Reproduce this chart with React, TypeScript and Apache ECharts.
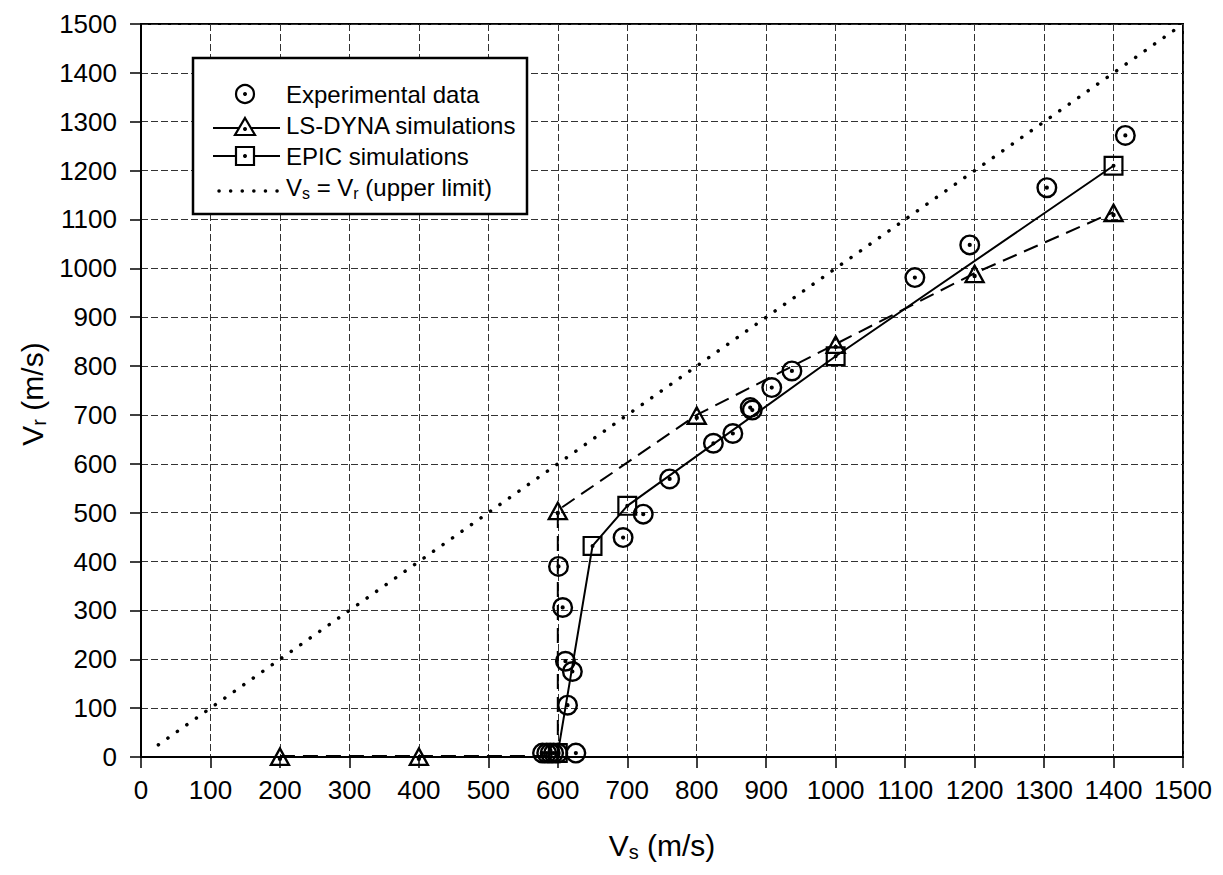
import React, { useEffect, useRef } from "react";
import * as echarts from "echarts";

// ---- data (Vs, Vr in m/s) ----
const experimentalData: number[][] = [
  [578, 8], [584, 8], [589, 8], [594, 8], [600, 8], [626, 8],
  [614, 106], [621, 175], [611, 196], [607, 306], [601, 390],
  [694, 449], [723, 497], [761, 569], [824, 642], [852, 662],
  [877, 715], [880, 710], [908, 756], [937, 790],
  [1114, 981], [1193, 1048], [1304, 1165], [1417, 1272],
];
const lsDynaData: (number[] | { value: number[]; symbol: string })[] = [
  [200, 2], [400, 2], { value: [600, 2], symbol: "none" }, [600, 505],
  [800, 700], [1000, 845], [1200, 990], [1400, 1115],
];
const epicData: number[][] = [
  [600, 8], [650, 432], [700, 514], [1000, 820], [1400, 1210],
];
const upperLimitData: number[][] = [[25, 25], [1500, 1500]];

const legendLabels = [
  "Experimental data",
  "LS-DYNA simulations",
  "EPIC simulations",
  "{a|V}{b|s}{a| = V}{b|r}{a| (upper limit)}",
];
const xAxisTitle = "{a|V}{b|s}{a| (m/s)}";
const yAxisTitle = "{a|V}{b|r}{a| (m/s)}";

const AXIS_MIN = 0;
const AXIS_MAX = 1500;
const AXIS_STEP = 100;

// symbols: outlined shape + centre dot (filled paths, nonzero rule)
const DOT = (cx: number, cy: number) =>
  `M${cx - 2},${cy} A2,2 0 1,1 ${cx + 2},${cy} A2,2 0 1,1 ${cx - 2},${cy} Z`;
const CIRCLE_DOT =
  "path://M0,10 A10,10 0 1,1 20,10 A10,10 0 1,1 0,10 Z " +
  "M2.3,10 A7.7,7.7 0 1,0 17.7,10 A7.7,7.7 0 1,0 2.3,10 Z " +
  DOT(10, 10);
const SQUARE_DOT =
  "path://M0,0 H20 V20 H0 Z M2.2,2.2 V17.8 H17.8 V2.2 Z " + DOT(10, 10);
const TRIANGLE_DOT =
  "path://M10,0 L20,18 L0,18 Z M10,4.4 L3.6,15.9 L16.4,15.9 Z " + DOT(10, 11.5);

const FONT = "'Liberation Sans', Arial, Helvetica, sans-serif";

export default function App() {
  const ref = useRef<HTMLDivElement>(null);

  useEffect(() => {
    if (!ref.current) return;
    const chart = echarts.init(ref.current, null, { renderer: "svg" });

    const legX = 193;
    const legY = 58;
    const rowY = [94, 125, 156, 187];
    const symX = 245;
    const textX = 286;
    const legendFont = 24;

    const richSmall = {
      a: { fontSize: legendFont, lineHeight: 28, fontFamily: FONT, fill: "#000" },
      b: { fontSize: 16, lineHeight: 11, verticalAlign: "bottom", fontFamily: FONT, fill: "#000" },
    };
    const richBig = {
      a: { fontSize: 30, lineHeight: 34, fontFamily: FONT, fill: "#000" },
      b: { fontSize: 20, lineHeight: 14, verticalAlign: "bottom", fontFamily: FONT, fill: "#000" },
    };

    const dotSym = (x: number, y: number) => ({
      type: "circle",
      shape: { cx: x, cy: y, r: 2 },
      style: { fill: "#000" },
      z: 102,
    });

    const legendGraphics: any[] = [
      {
        type: "rect",
        shape: { x: legX, y: legY, width: 334, height: 156 },
        style: { fill: "#fff", stroke: "#000", lineWidth: 2.5 },
        z: 100,
      },
      {
        type: "circle",
        shape: { cx: symX, cy: rowY[0], r: 9 },
        style: { fill: "none", stroke: "#000", lineWidth: 2.2 },
        z: 101,
      },
      dotSym(symX, rowY[0]),
      {
        type: "line",
        shape: { x1: 213, y1: rowY[1] + 3, x2: 280, y2: rowY[1] + 3 },
        style: { stroke: "#000", lineWidth: 2 },
        z: 101,
      },
      {
        type: "polygon",
        shape: { points: [[symX, rowY[1] - 7], [symX + 10, rowY[1] + 10], [symX - 10, rowY[1] + 10]] },
        style: { fill: "#fff", stroke: "#000", lineWidth: 2.2 },
        z: 101,
      },
      dotSym(symX, rowY[1] + 4),
      {
        type: "line",
        shape: { x1: 213, y1: rowY[2], x2: 280, y2: rowY[2] },
        style: { stroke: "#000", lineWidth: 2 },
        z: 101,
      },
      {
        type: "rect",
        shape: { x: symX - 9, y: rowY[2] - 9, width: 18, height: 18 },
        style: { fill: "#fff", stroke: "#000", lineWidth: 2.2 },
        z: 101,
      },
      dotSym(symX, rowY[2]),
      {
        type: "line",
        shape: { x1: 219, y1: rowY[3] + 4, x2: 280, y2: rowY[3] + 4 },
        style: { stroke: "#000", lineWidth: 3.5, lineDash: [0.1, 11.5], lineCap: "round" },
        z: 101,
      },
    ];
    legendLabels.forEach((label, i) => {
      legendGraphics.push({
        type: "text",
        x: textX,
        y: rowY[i],
        z: 103,
        style: {
          text: i === 3 ? label : `{a|${label}}`,
          rich: richSmall,
          align: "left",
          verticalAlign: "middle",
        },
      });
    });

    const axisCommon = {
      type: "value",
      min: AXIS_MIN,
      max: AXIS_MAX,
      interval: AXIS_STEP,
      axisLine: { show: true, lineStyle: { color: "#000", width: 2 } },
      axisTick: { show: true, inside: false, length: 11, lineStyle: { color: "#000", width: 1.5 } },
      splitLine: { show: true, lineStyle: { color: "#333", width: 1, type: [7, 3] } },
      axisLabel: {
        color: "#000",
        fontSize: 26,
        fontFamily: FONT,
        formatter: (v: number) => String(v),
      },
    };

    chart.setOption({
      animation: false,
      backgroundColor: "#fff",
      grid: {
        left: 141,
        right: 40,
        top: 24,
        bottom: 118,
        show: true,
        borderColor: "#000",
        borderWidth: 2,
        backgroundColor: "transparent",
      },
      xAxis: {
        ...axisCommon,
        axisLabel: { ...axisCommon.axisLabel, margin: 20 },
      },
      yAxis: {
        ...axisCommon,
        axisLabel: { ...axisCommon.axisLabel, margin: 24 },
      },
      series: [
        {
          name: "Vs = Vr (upper limit)",
          type: "line",
          data: upperLimitData,
          symbol: "none",
          lineStyle: { color: "#000", width: 3.5, type: [0.1, 11.5], cap: "round" },
          z: 2,
        },
        {
          name: "LS-DYNA simulations",
          type: "line",
          data: lsDynaData,
          symbol: TRIANGLE_DOT,
          symbolSize: [22, 20],
          showAllSymbol: true,
          itemStyle: { color: "#000", opacity: 1 },
          lineStyle: { color: "#000", width: 2, type: [15, 8] },
          z: 3,
        },
        {
          name: "EPIC simulations",
          type: "line",
          data: epicData,
          symbol: SQUARE_DOT,
          symbolSize: 20,
          showAllSymbol: true,
          itemStyle: { color: "#000", opacity: 1 },
          lineStyle: { color: "#000", width: 2 },
          z: 4,
        },
        {
          name: "Experimental data",
          type: "scatter",
          data: experimentalData,
          symbol: CIRCLE_DOT,
          symbolSize: 21,
          itemStyle: { color: "#000", opacity: 1 },
          z: 5,
        },
      ],
      graphic: [
        ...legendGraphics,
        {
          type: "text",
          x: 662,
          y: 845,
          style: { text: xAxisTitle, rich: richBig, align: "center", verticalAlign: "middle" },
        },
        {
          type: "text",
          x: 32,
          y: 394,
          rotation: Math.PI / 2,
          style: { text: yAxisTitle, rich: richBig, align: "center", verticalAlign: "middle" },
        },
      ],
    });

    return () => chart.dispose();
  }, []);

  return (
    <div
      ref={ref}
      style={{ position: "absolute", left: 0, top: 0, width: 1223, height: 875, background: "#fff" }}
    />
  );
}
